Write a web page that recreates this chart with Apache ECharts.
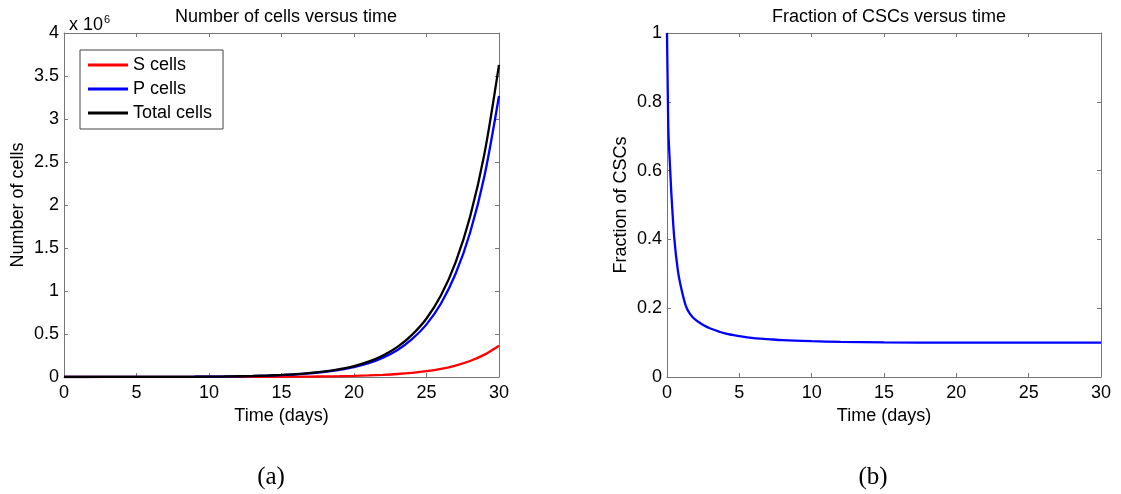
<!DOCTYPE html>
<html>
<head>
<meta charset="utf-8">
<script src="https://cdn.jsdelivr.net/npm/echarts@6/dist/echarts.min.js"></script>
<style>
html,body{margin:0;padding:0;background:#fff;}
#c{width:1121px;height:494px;}
</style>
</head>
<body>
<div id="c"></div>
<script>
// ---- Data ----
var days = [0,1,2,3,4,5,6,7,8,9,10,11,12,13,14,15,16,17,18,19,20,21,22,23,24,25,26,27,28,29,30];
// cell counts in millions
var sCells = [0.0002,0.00005,0.00005,0.00006,0.00006,0.00008,0.00011,0.00015,0.00021,0.0003,0.00045,0.0006,0.0009,0.0012,0.0017,0.0024,0.0033,0.0047,0.0066,0.0092,0.0127,0.0178,0.025,0.035,0.049,0.068,0.095,0.133,0.186,0.26,0.363];
var pCells = [0,0.00015,0.00025,0.00034,0.00044,0.0006,0.0009,0.0013,0.0018,0.0027,0.004,0.0054,0.0078,0.0108,0.0153,0.0216,0.0297,0.0423,0.0594,0.0828,0.114,0.160,0.225,0.315,0.441,0.612,0.855,1.197,1.674,2.34,3.267];
var totalCells = [0.0002,0.0002,0.0003,0.0004,0.0005,0.0007,0.0010,0.0014,0.002,0.003,0.0044,0.006,0.0087,0.012,0.017,0.024,0.033,0.047,0.066,0.092,0.127,0.178,0.25,0.35,0.49,0.68,0.95,1.33,1.86,2.60,3.63];

var fracTime = [0,0.05,0.1,0.2,0.3,0.5,0.75,1,1.3,1.6,2,2.5,3,4,5,6,7,8,10,12,15,20,25,30];
var fracCSC  = [1.0,0.84,0.71,0.62,0.535,0.405,0.31,0.255,0.207,0.183,0.165,0.151,0.141,0.127,0.119,0.113,0.11,0.107,0.104,0.102,0.1005,0.1,0.1,0.1];

var xTicks = {min:0, max:30, interval:5};
var yLeft = {min:0, max:4e6, interval:5e5};
var yRight = {min:0, max:1, interval:0.2};

// ---- Chart ----
var FONT = '"Liberation Sans", Arial, sans-serif';
var FS = 18;
var AX = '#767676';
function pairs(xs, ys, scale){ return xs.map(function(x,i){ return [x, ys[i]*(scale||1)]; }); }

function mainX(grid){
  return {type:'value', gridIndex:grid, min:xTicks.min, max:xTicks.max, interval:xTicks.interval,
    name:'Time (days)', nameLocation:'middle', nameGap:27,
    nameTextStyle:{fontFamily:FONT, fontSize:FS, color:'#000'},
    axisLine:{show:true, onZero:false, lineStyle:{color:AX, width:1}},
    axisTick:{show:true, inside:true, length:4, lineStyle:{color:AX}},
    axisLabel:{fontFamily:FONT, fontSize:FS, color:'#000', margin:7},
    splitLine:{show:false}};
}
function topX(grid){
  return {type:'value', gridIndex:grid, position:'top', min:xTicks.min, max:xTicks.max, interval:xTicks.interval,
    axisLine:{show:true, onZero:false, lineStyle:{color:AX, width:1}},
    axisTick:{show:true, inside:true, length:4, lineStyle:{color:AX}},
    axisLabel:{show:false}, splitLine:{show:false}};
}
function mainY(grid, sc, name, fmt){
  return {type:'value', gridIndex:grid, min:sc.min, max:sc.max, interval:sc.interval,
    name:name, nameLocation:'middle', nameGap:37, nameRotate:90,
    nameTextStyle:{fontFamily:FONT, fontSize:FS, color:'#000'},
    axisLine:{show:true, onZero:false, lineStyle:{color:AX, width:1}},
    axisTick:{show:true, inside:true, length:4, lineStyle:{color:AX}},
    axisLabel:{fontFamily:FONT, fontSize:FS, color:'#000', margin:5, formatter:fmt},
    splitLine:{show:false}};
}
function rightY(grid, sc){
  return {type:'value', gridIndex:grid, position:'right', min:sc.min, max:sc.max, interval:sc.interval,
    axisLine:{show:true, onZero:false, lineStyle:{color:AX, width:1}},
    axisTick:{show:true, inside:true, length:4, lineStyle:{color:AX}},
    axisLabel:{show:false}, splitLine:{show:false}};
}

var chart = echarts.init(document.getElementById('c'), null, {renderer:'canvas'});
var lineCommon = {type:'line', showSymbol:false, symbol:'none', smooth:0.3, animation:false};
var SERIF = '"Liberation Serif", "DejaVu Serif", serif';

chart.setOption({
  backgroundColor:'#fff',
  animation:false,
  title:[
    {text:'Number of cells versus time', left:281, top:3, textAlign:'center',
      textStyle:{fontFamily:FONT, fontSize:FS, fontWeight:'normal', color:'#000'}},
    {text:'Fraction of CSCs versus time', left:884, top:3, textAlign:'center',
      textStyle:{fontFamily:FONT, fontSize:FS, fontWeight:'normal', color:'#000'}},
    {text:'(a)', left:266, top:460, textAlign:'center',
      textStyle:{fontFamily:SERIF, fontSize:25, fontWeight:'normal', color:'#000'}},
    {text:'(b)', left:868, top:460, textAlign:'center',
      textStyle:{fontFamily:SERIF, fontSize:25, fontWeight:'normal', color:'#000'}},
    {text:'x 10{s|6}', left:64, top:9,
      textStyle:{fontFamily:FONT, fontSize:FS, fontWeight:'normal', color:'#000',
        rich:{s:{fontFamily:FONT, fontSize:11, color:'#000', verticalAlign:'top', padding:[0,0,12,1]}}}}
  ],
  legend:{
    data:['S cells','P cells','Total cells'],
    orient:'vertical', left:80, top:50,
    backgroundColor:'#fff', borderColor:'#444', borderWidth:1,
    padding:[6,11,7,8], itemGap:6, itemWidth:40, itemHeight:3, icon:'rect',
    textStyle:{fontFamily:FONT, fontSize:FS, color:'#000', lineHeight:18}
  },
  grid:[
    {left:64, top:33, width:435, height:344, containLabel:false},
    {left:667, top:33, width:434, height:344, containLabel:false}
  ],
  xAxis:[mainX(0), topX(0), mainX(1), topX(1)],
  yAxis:[
    mainY(0, yLeft, 'Number of cells', function(v){ return String(Math.round(v/1e5)/10); }),
    rightY(0, yLeft),
    mainY(1, yRight, 'Fraction of CSCs', null),
    rightY(1, yRight)
  ],
  series:[
    Object.assign({}, lineCommon, {name:'S cells', xAxisIndex:0, yAxisIndex:0, data:pairs(days, sCells, 1e6),
      color:'#ff0000', lineStyle:{color:'#ff0000', width:2.3}}),
    Object.assign({}, lineCommon, {name:'P cells', xAxisIndex:0, yAxisIndex:0, data:pairs(days, pCells, 1e6),
      color:'#0000ff', lineStyle:{color:'#0000ff', width:2.3}}),
    Object.assign({}, lineCommon, {name:'Total cells', xAxisIndex:0, yAxisIndex:0, data:pairs(days, totalCells, 1e6),
      color:'#000000', lineStyle:{color:'#000000', width:2.3}}),
    Object.assign({}, lineCommon, {name:'Fraction', xAxisIndex:2, yAxisIndex:2, data:pairs(fracTime, fracCSC),
      color:'#0000ff', lineStyle:{color:'#0000ff', width:2.3}})
  ]
});
</script>
</body>
</html>
